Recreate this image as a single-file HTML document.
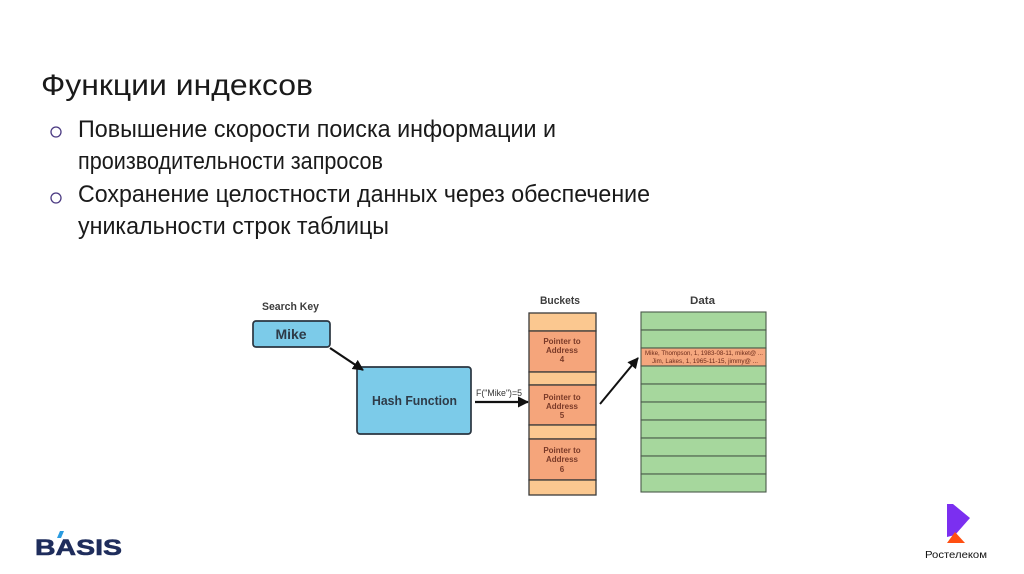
<!DOCTYPE html>
<html>
<head>
<meta charset="utf-8">
<style>
html,body{margin:0;padding:0;background:#fff;}
body{width:1024px;height:574px;overflow:hidden;}
svg{display:block;}
</style>
</head>
<body>
<svg width="1024" height="574" viewBox="0 0 1024 574" xmlns="http://www.w3.org/2000/svg">
<defs>
<marker id="ah" markerWidth="12" markerHeight="12" refX="10" refY="6" orient="auto" markerUnits="userSpaceOnUse">
<path d="M0,0.5 L11,6 L0,11.5 z" fill="#111"/>
</marker>
</defs>
<rect x="0" y="0" width="1024" height="574" fill="#fff"/>

<!-- Title and bullets -->
<g font-family="'Liberation Sans','Noto Sans CJK SC',sans-serif" fill="#1a1a1a">
<text x="41" y="95" font-size="30" textLength="272" lengthAdjust="spacingAndGlyphs">Функции индексов</text>
<text x="78" y="137" font-size="24" textLength="478" lengthAdjust="spacingAndGlyphs">Повышение скорости поиска информации и</text>
<text x="78" y="169" font-size="24" textLength="305" lengthAdjust="spacingAndGlyphs">производительности запросов</text>
<text x="78" y="202" font-size="24" textLength="572" lengthAdjust="spacingAndGlyphs">Сохранение целостности данных через обеспечение</text>
<text x="78" y="234" font-size="24" textLength="311" lengthAdjust="spacingAndGlyphs">уникальности строк таблицы</text>
</g>
<circle cx="56" cy="132" r="5" fill="none" stroke="#4b3a82" stroke-width="1.3"/>
<circle cx="56" cy="198" r="5" fill="none" stroke="#4b3a82" stroke-width="1.3"/>

<!-- Diagram -->
<g font-family="'Liberation Sans',sans-serif" font-weight="bold">
<text x="262" y="310" font-size="11" fill="#3d3d3d" textLength="57" lengthAdjust="spacingAndGlyphs">Search Key</text>
<text x="540" y="304" font-size="11" fill="#3d3d3d" textLength="40" lengthAdjust="spacingAndGlyphs">Buckets</text>
<text x="690" y="304" font-size="11" fill="#3d3d3d" textLength="25" lengthAdjust="spacingAndGlyphs">Data</text>
</g>

<!-- Mike box -->
<rect x="253" y="321" width="77" height="26" rx="3" fill="#7ccbe9" stroke="#2a3540" stroke-width="1.7"/>
<text x="291" y="339" font-family="'Liberation Sans',sans-serif" font-weight="bold" font-size="14" fill="#2e3b48" text-anchor="middle">Mike</text>

<!-- Hash Function box -->
<rect x="357" y="367" width="114" height="67" rx="3" fill="#7ccbe9" stroke="#2a3540" stroke-width="1.7"/>
<text x="372" y="405" font-family="'Liberation Sans',sans-serif" font-weight="bold" font-size="13" fill="#2e3b48" textLength="85" lengthAdjust="spacingAndGlyphs">Hash Function</text>

<!-- arrows -->
<line x1="330" y1="348" x2="363" y2="370" stroke="#111" stroke-width="2.2" marker-end="url(#ah)"/>
<line x1="475" y1="402" x2="528" y2="402" stroke="#111" stroke-width="2.2" marker-end="url(#ah)"/>
<line x1="600" y1="404" x2="638" y2="358" stroke="#111" stroke-width="2" marker-end="url(#ah)"/>
<text x="476" y="396" font-family="'Liberation Sans',sans-serif" font-size="9" fill="#333" textLength="46" lengthAdjust="spacingAndGlyphs">F("Mike")=5</text>

<!-- Buckets -->
<g stroke="#3a3a3a" stroke-width="1.3">
<rect x="529" y="313" width="67" height="18" fill="#fbc890"/>
<rect x="529" y="331" width="67" height="41" fill="#f5a57b"/>
<rect x="529" y="372" width="67" height="13" fill="#fbc890"/>
<rect x="529" y="385" width="67" height="40" fill="#f5a57b"/>
<rect x="529" y="425" width="67" height="14" fill="#fbc890"/>
<rect x="529" y="439" width="67" height="41" fill="#f5a57b"/>
<rect x="529" y="480" width="67" height="15" fill="#fbc890"/>
</g>
<g font-family="'Liberation Sans',sans-serif" font-weight="bold" font-size="8" fill="#7a3a28" text-anchor="middle">
<text x="562" y="344">Pointer to</text>
<text x="562" y="353">Address</text>
<text x="562" y="362">4</text>
<text x="562" y="400">Pointer to</text>
<text x="562" y="409">Address</text>
<text x="562" y="418">5</text>
<text x="562" y="453">Pointer to</text>
<text x="562" y="462">Address</text>
<text x="562" y="472">6</text>
</g>

<!-- Data -->
<g stroke="#4a5a4a" stroke-width="1.1">
<rect x="641" y="312" width="125" height="18" fill="#a6d79d"/>
<rect x="641" y="330" width="125" height="18" fill="#a6d79d"/>
<rect x="641" y="348" width="125" height="18" fill="#f5a77e"/>
<rect x="641" y="366" width="125" height="18" fill="#a6d79d"/>
<rect x="641" y="384" width="125" height="18" fill="#a6d79d"/>
<rect x="641" y="402" width="125" height="18" fill="#a6d79d"/>
<rect x="641" y="420" width="125" height="18" fill="#a6d79d"/>
<rect x="641" y="438" width="125" height="18" fill="#a6d79d"/>
<rect x="641" y="456" width="125" height="18" fill="#a6d79d"/>
<rect x="641" y="474" width="125" height="18" fill="#a6d79d"/>
</g>
<g font-family="'Liberation Sans',sans-serif" font-size="6" fill="#6b2a1a">
<text x="645" y="355" textLength="118" lengthAdjust="spacingAndGlyphs">Mike, Thompson, 1, 1983-08-11, miket@ ...</text>
<text x="652" y="363" textLength="106" lengthAdjust="spacingAndGlyphs">Jim, Lakes, 1, 1965-11-15, jimmy@ ...</text>
</g>

<!-- BASIS logo -->
<text x="35" y="555" font-family="'Liberation Sans',sans-serif" font-weight="bold" font-size="22" fill="#1f2d5c" textLength="87" lengthAdjust="spacingAndGlyphs" stroke="#1f2d5c" stroke-width="0.6">BASIS</text>
<polygon points="57,538 60,531 64,531 61,538" fill="#2a9be0"/>

<!-- Rostelecom logo -->
<polygon points="947,504 953,504 970,518 955,535 947,537" fill="#7b2ff0"/>
<polygon points="947,543 955,532 965,543" fill="#ff4f12"/>
<text x="925" y="558" font-family="'Liberation Sans',sans-serif" font-size="10" fill="#111" textLength="62" lengthAdjust="spacingAndGlyphs">Ростелеком</text>
</svg>
</body>
</html>
